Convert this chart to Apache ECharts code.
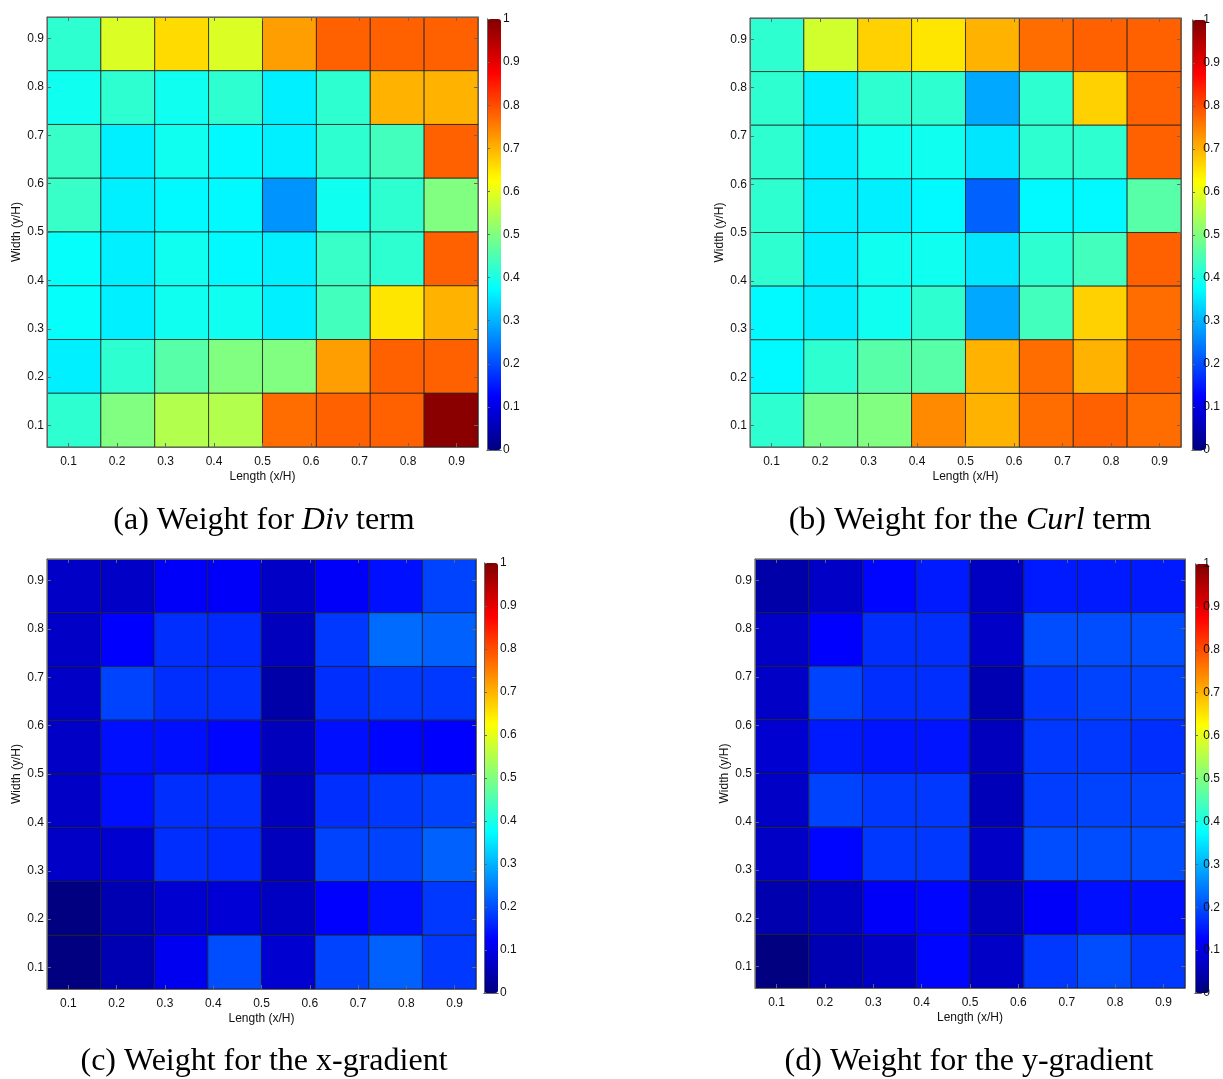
<!DOCTYPE html>
<html><head><meta charset="utf-8">
<script src="https://cdn.jsdelivr.net/npm/echarts@6/dist/echarts.min.js"></script>
<style>html,body{margin:0;padding:0;background:#fff}#c{width:1223px;height:1079px}</style>
</head><body><div id="c"></div>
<script>
// cell centres (x/H and y/H), cell size
const xCenters = [0.1111, 0.2222, 0.3333, 0.4444, 0.5556, 0.6667, 0.7778, 0.8889];
const yCenters = [0.1111, 0.2222, 0.3333, 0.4444, 0.5556, 0.6667, 0.7778, 0.8889]; // bottom -> top
const cellSize = 0.1111;
const axisMin = 0.0556, axisMax = 0.9444;
const tickValues = [0.1, 0.2, 0.3, 0.4, 0.5, 0.6, 0.7, 0.8, 0.9];

// weights, rows listed from top (y=0.89) to bottom (y=0.11)
const divWeights = [
  [0.42,0.59,0.66,0.59,0.72,0.78,0.78,0.78],
  [0.39,0.42,0.39,0.42,0.36,0.42,0.70,0.70],
  [0.43,0.36,0.39,0.37,0.36,0.42,0.44,0.78],
  [0.43,0.36,0.37,0.37,0.27,0.39,0.42,0.50],
  [0.38,0.36,0.39,0.37,0.36,0.43,0.42,0.78],
  [0.38,0.36,0.39,0.39,0.36,0.44,0.65,0.70],
  [0.36,0.42,0.46,0.50,0.50,0.72,0.78,0.78],
  [0.42,0.50,0.55,0.55,0.77,0.78,0.78,0.99]
];
const curlWeights = [
  [0.42,0.58,0.67,0.65,0.70,0.77,0.78,0.78],
  [0.42,0.36,0.42,0.42,0.29,0.42,0.67,0.78],
  [0.42,0.36,0.39,0.39,0.35,0.42,0.42,0.78],
  [0.42,0.36,0.36,0.37,0.22,0.37,0.37,0.46],
  [0.42,0.36,0.39,0.39,0.35,0.42,0.44,0.78],
  [0.37,0.36,0.39,0.42,0.29,0.44,0.67,0.77],
  [0.37,0.42,0.46,0.46,0.70,0.77,0.70,0.78],
  [0.42,0.49,0.50,0.74,0.70,0.77,0.78,0.77]
];
const xGradWeights = [
  [0.07,0.07,0.12,0.12,0.07,0.12,0.14,0.19],
  [0.07,0.125,0.17,0.165,0.06,0.18,0.23,0.22],
  [0.07,0.19,0.17,0.17,0.04,0.17,0.18,0.18],
  [0.07,0.14,0.14,0.13,0.06,0.14,0.13,0.125],
  [0.07,0.14,0.17,0.17,0.06,0.17,0.18,0.19],
  [0.07,0.08,0.17,0.165,0.06,0.19,0.19,0.22],
  [0.00,0.05,0.08,0.085,0.065,0.125,0.14,0.18],
  [0.00,0.05,0.11,0.20,0.08,0.19,0.22,0.18]
];
const yGradWeights = [
  [0.04,0.07,0.13,0.15,0.065,0.15,0.15,0.15],
  [0.07,0.125,0.17,0.17,0.07,0.20,0.20,0.20],
  [0.07,0.19,0.17,0.17,0.05,0.18,0.19,0.19],
  [0.08,0.15,0.145,0.145,0.06,0.18,0.18,0.17],
  [0.07,0.19,0.18,0.18,0.055,0.185,0.19,0.19],
  [0.07,0.13,0.18,0.18,0.07,0.20,0.20,0.20],
  [0.045,0.065,0.12,0.13,0.06,0.12,0.14,0.14],
  [0.00,0.05,0.07,0.13,0.07,0.18,0.20,0.18]
];
const captions = [
  '(a) Weight for {i|Div} term',
  '(b) Weight for the {i|Curl} term',
  '(c) Weight for the x-gradient',
  '(d) Weight for the y-gradient'
];
const xName = 'Length (x/H)';
const yName = 'Width (y/H)';

// jet colormap stops (0, .125, .25, ..., 1)
const jet = ['#000080','#0000ff','#0080ff','#00ffff','#80ff80','#ffff00','#ff8000','#ff0000','#800000'];

const panels = [
  {w: divWeights,   plot: {left: 47,  top: 17,  width: 431, height: 430}, bar: {left: 487,  top: 19,  height: 431}, cap: [264, 521]},
  {w: curlWeights,  plot: {left: 750, top: 18,  width: 431, height: 429}, bar: {left: 1192, top: 20,  height: 430}, cap: [970, 521]},
  {w: xGradWeights, plot: {left: 47,  top: 559, width: 429, height: 430}, bar: {left: 484,  top: 563, height: 430}, cap: [264, 1062]},
  {w: yGradWeights, plot: {left: 755, top: 559, width: 430, height: 429}, bar: {left: 1195, top: 564, height: 429}, cap: [969, 1062]}
];

const FONT = "'Liberation Sans', Arial, Helvetica, sans-serif";
const SERIF = "'Liberation Serif', 'Times New Roman', serif";
const grid = [], xAxis = [], yAxis = [], series = [], visualMap = [], graphic = [];
const lineStyle = {color: '#666', width: 1};

panels.forEach((p, i) => {
  const g = grid.length;
  grid.push(Object.assign({containLabel: false}, p.plot));
  const xb = xAxis.length;
  xAxis.push({gridIndex: g, type: 'value', position: 'bottom', min: axisMin, max: axisMax,
    axisLine: {show: true, onZero: false, lineStyle},
    axisTick: {show: true, inside: true, length: 4, customValues: tickValues, lineStyle},
    axisLabel: {show: true, customValues: tickValues, margin: 9, color: '#111', fontSize: 12, fontFamily: FONT,
      formatter: v => v.toFixed(1)},
    splitLine: {show: false},
    name: xName, nameLocation: 'middle', nameGap: 24,
    nameTextStyle: {color: '#111', fontSize: 12, fontFamily: FONT}, z: 5});
  xAxis.push({gridIndex: g, type: 'value', position: 'top', min: axisMin, max: axisMax,
    axisLine: {show: true, onZero: false, lineStyle},
    axisTick: {show: true, inside: true, length: 4, customValues: tickValues, lineStyle},
    axisLabel: {show: false}, splitLine: {show: false}, z: 5});
  const yl = yAxis.length;
  yAxis.push({gridIndex: g, type: 'value', position: 'left', min: axisMin, max: axisMax,
    axisLine: {show: true, onZero: false, lineStyle},
    axisTick: {show: true, inside: true, length: 4, customValues: tickValues, lineStyle},
    axisLabel: {show: true, customValues: tickValues, margin: 3, color: '#111', fontSize: 12, fontFamily: FONT,
      formatter: v => v.toFixed(1)},
    splitLine: {show: false},
    name: yName, nameLocation: 'middle', nameGap: 24,
    nameTextStyle: {color: '#111', fontSize: 12, fontFamily: FONT}, z: 5});
  yAxis.push({gridIndex: g, type: 'value', position: 'right', min: axisMin, max: axisMax,
    axisLine: {show: true, onZero: false, lineStyle},
    axisTick: {show: true, inside: true, length: 4, customValues: tickValues, lineStyle},
    axisLabel: {show: false}, splitLine: {show: false}, z: 5});

  const data = [];
  p.w.forEach((row, r) => row.forEach((v, c) => data.push([xCenters[c], yCenters[7 - r], v])));
  series.push({
    type: 'custom', xAxisIndex: xb, yAxisIndex: yl, data,
    encode: {x: 0, y: 1},
    renderItem: (params, api) => {
      const x = api.value(0), y = api.value(1);
      const a = api.coord([x - cellSize / 2, y + cellSize / 2]);
      const b = api.coord([x + cellSize / 2, y - cellSize / 2]);
      return {type: 'rect', shape: {x: a[0], y: a[1], width: b[0] - a[0], height: b[1] - a[1]},
        style: {fill: api.visual('color'), stroke: 'rgba(30,30,30,0.75)', lineWidth: 1}};
    }
  });

  visualMap.push({type: 'continuous', min: 0, max: 1, seriesIndex: i, dimension: 2,
    inRange: {color: jet}, calculable: false, orient: 'vertical', itemWidth: 14,
    itemHeight: p.bar.height, left: p.bar.left, top: p.bar.top, padding: 0, text: null, z: 1});

  // colour-bar axes (frame, ticks, labels)
  const cg = grid.length;
  grid.push({left: p.bar.left, top: p.bar.top, width: 14, height: p.bar.height});
  xAxis.push({gridIndex: cg, type: 'value', min: 0, max: 1, position: 'bottom',
    axisLine: {show: true, lineStyle}, axisTick: {show: false}, axisLabel: {show: false}, splitLine: {show: false}, z: 5});
  xAxis.push({gridIndex: cg, type: 'value', min: 0, max: 1, position: 'top',
    axisLine: {show: true, lineStyle}, axisTick: {show: false}, axisLabel: {show: false}, splitLine: {show: false}, z: 5});
  yAxis.push({gridIndex: cg, type: 'value', min: 0, max: 1, interval: 0.1, position: 'right',
    axisLine: {show: true, lineStyle}, axisTick: {show: true, length: 3, lineStyle},
    axisLabel: {show: true, margin: 2, color: '#111', fontSize: 12, fontFamily: FONT,
      formatter: v => (v === 0 || v === 1) ? String(v) : v.toFixed(1)},
    splitLine: {show: false}, z: 5});
  yAxis.push({gridIndex: cg, type: 'value', min: 0, max: 1, position: 'left',
    axisLine: {show: true, lineStyle}, axisTick: {show: false}, axisLabel: {show: false}, splitLine: {show: false}, z: 5});

  graphic.push({type: 'text', x: p.cap[0], y: p.cap[1],
    style: {text: captions[i], font: "32px " + SERIF, fill: '#000',
      align: 'center', verticalAlign: 'middle',
      rich: {i: {fontStyle: 'italic', fontFamily: SERIF, fontSize: 32}}}});
});

const chart = echarts.init(document.getElementById('c'), null, {renderer: 'canvas'});
chart.setOption({animation: false, backgroundColor: '#fff', grid, xAxis, yAxis, series, visualMap, graphic});
</script>
</body></html>
